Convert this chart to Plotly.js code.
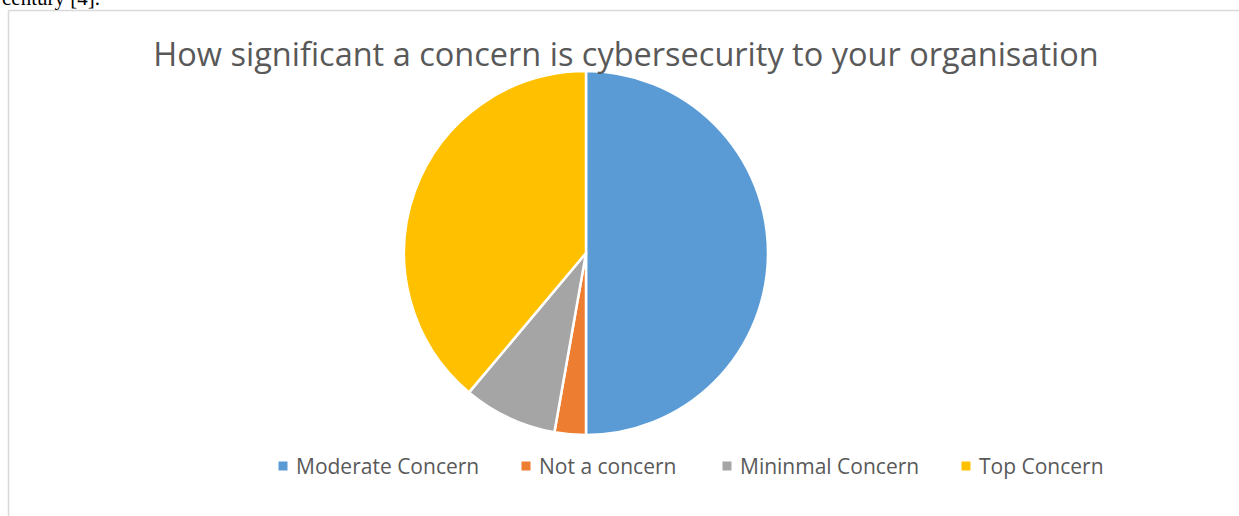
<!DOCTYPE html>
<html>
<head>
<meta charset="utf-8">
<script src="https://cdn.plot.ly/plotly-3.0.1.min.js"></script>
<style>html,body{margin:0;padding:0;background:#fff;}#chart{width:1239px;height:516px;}</style>
</head>
<body>
<div id="chart"></div>
<script>
const categories = ["Moderate Concern", "Not a concern", "Mininmal Concern", "Top Concern"];
const counts = [18, 1, 3, 14];
const colors = ["#5B9BD5", "#ED7D31", "#A5A5A5", "#FFC000"];
const chartTitle = "How significant a concern is cybersecurity to your organisation";
const W = 1239, H = 516;
const px = (x) => x / W;
const py = (y) => 1 - y / H;

const trace = {
  type: "pie",
  labels: categories,
  values: counts,
  sort: false,
  direction: "clockwise",
  rotation: 0,
  textinfo: "none",
  hoverinfo: "label+percent",
  showlegend: false,
  marker: { colors: colors, line: { color: "#ffffff", width: 2.5 } },
  domain: { x: [px(404), px(768)], y: [py(435), py(71)] }
};

// Legend layout (Excel-style: small square then label)
const legendMarkerX = [283, 526, 727, 966];
const legendY = 466;
const legendShapes = categories.map((c, i) => ({
  type: "rect", xref: "paper", yref: "paper",
  x0: px(legendMarkerX[i] - 4.5), x1: px(legendMarkerX[i] + 4.5),
  y0: py(legendY + 4.5), y1: py(legendY - 4.5),
  fillcolor: colors[i], line: { width: 0 }
}));
const legendTexts = categories.map((c, i) => ({
  text: c, xref: "paper", yref: "paper",
  x: px(legendMarkerX[i] + 11), xanchor: "left",
  y: py(legendY), yanchor: "middle", showarrow: false,
  font: { family: "Open Sans, sans-serif", size: 21, color: "#595959" }
}));

const layout = {
  width: W, height: H,
  margin: { l: 0, r: 0, t: 0, b: 0 },
  paper_bgcolor: "#ffffff",
  showlegend: false,
  title: {
    text: chartTitle,
    font: { family: "Open Sans, sans-serif", size: 32.5, color: "#595959" },
    x: px(626), xanchor: "center",
    y: py(55), yanchor: "middle",
    xref: "paper", yref: "paper"
  },
  shapes: [
    { type: "line", xref: "paper", yref: "paper", x0: px(8.5), x1: px(8.5), y0: py(10.5), y1: 0, line: { color: "#d9d9d9", width: 1.5 } },
    { type: "line", xref: "paper", yref: "paper", x0: px(8.5), x1: 1, y0: py(10.5), y1: py(10.5), line: { color: "#d9d9d9", width: 1.5 } }
  ].concat(legendShapes),
  annotations: [
    { text: "century [4].", xref: "paper", yref: "paper", x: 0, xanchor: "left", y: py(12), yanchor: "bottom", showarrow: false,
      font: { family: "Liberation Serif, Times New Roman, serif", size: 21, color: "#000" } }
  ].concat(legendTexts)
};

Plotly.newPlot("chart", [trace], layout, { displayModeBar: false });
</script>
</body>
</html>
